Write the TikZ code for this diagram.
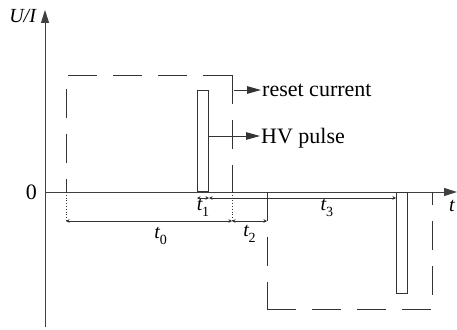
\documentclass[tikz,border=0pt]{standalone}
\usepackage{fontspec}
\setmainfont{Liberation Serif}
\usetikzlibrary{arrows.meta, positioning}

\newcommand{\tsub}[1]{\textit{t}\kern-0.5pt\raisebox{-0.3em}{\fontsize{14}{14}\selectfont #1}}

\begin{document}
\begin{tikzpicture}[
    x=1pt, y=-1pt,
    font=\fontsize{22}{26}\selectfont,
    inner sep=1pt,
    axisline/.style={draw=black!75, line width=1pt, -{Triangle[length=13pt, width=8pt]}},
    thinline/.style={draw=black!80, line width=1pt},
    boxedge/.style={thinline, dash pattern=on 29pt off 16pt},
    pulse/.style={rectangle, draw=black!80, line width=1pt, minimum width=11pt, minimum height=101pt, inner sep=0pt},
    guide/.style={draw=black!80, line width=0.8pt, dotted},
    dimline/.style={draw=black!80, line width=0.7pt, {Stealth[length=3.5pt, width=3.5pt]}-{Stealth[length=3.5pt, width=3.5pt]}},
    callout/.style={thinline, -{Triangle[length=14pt, width=7.5pt]}},
    tlabel/.style={font=\fontsize{20}{22}\selectfont}
]
    \useasboundingbox (0,0) rectangle (457,329);

    % Axes
    \coordinate (O) at (45,192);
    \coordinate (ytop) at (45,10);
    \coordinate (ybot) at (45,327);
    \coordinate (xend) at (457,192);
    \draw[axisline] (ybot) -- (ytop);
    \draw[axisline] (O) -- (xend);
    \node[left=7pt of O] (zero) {0};
    \node[tlabel] (ylab) at (23,16) {\textit{U/I}};
    \node[tlabel] (xlab) at (452,206) {\textit{t}};

    % Dashed boxes
    \coordinate (pa) at (66,192);
    \coordinate (pb) at (66,75);
    \coordinate (pc) at (232,75);
    \coordinate (pd) at (232,192);
    \coordinate (na) at (267,192);
    \coordinate (nb) at (267,309);
    \coordinate (nc) at (432,309);
    \coordinate (nd) at (432,192);
    \draw[boxedge, dash phase=16pt] (pa) -- (pb);
    \draw[boxedge, dash phase=43pt] (pb) -- (pc);
    \draw[boxedge] (pc) -- (pd);
    \draw[boxedge, dash phase=2pt] (nb) -- (na);
    \draw[boxedge] (nb) -- (nc);
    \draw[boxedge, dash phase=16pt] (nd) -- (nc);

    % Pulses
    \node[pulse, anchor=south west] (hvpos) at (197,192) {};
    \node[pulse, anchor=north west] (hvneg) at (396,192) {};

    % Labels
    \node[anchor=west, text depth=0pt] (resetlab) at (261,90) {reset current};
    \node[anchor=west, text depth=0pt] (hvlab) at (260,136) {HV pulse};
    \draw[callout] ([xshift=2pt]pc |- resetlab.west) -- (resetlab.west);
    \draw[callout] (hvpos.east |- hvlab.west) -- (hvlab.west);

    % Timing
    \draw[guide] (pa) -- ++(0,29) coordinate (ga);
    \draw[guide] (pd) -- ++(0,29) coordinate (gd);
    \coordinate (gn) at (na |- ga);
    \coordinate (ua) at ([yshift=-6pt]hvpos.south west);
    \coordinate (ub) at ([yshift=-6pt]hvpos.south east);
    \coordinate (uc) at (hvneg.west |- ua);
    \draw[dimline] (ga) -- node[tlabel, pos=0.57, below=5pt] {\tsub{0}} (gd);
    \draw[dimline] (gd) -- node[tlabel, below=3pt] {\tsub{2}} (gn);
    \draw[dimline] (ua) -- node[tlabel, below=0pt] {\tsub{1}} (ub);
    \draw[dimline] (ub) -- node[tlabel, pos=0.63, below=0pt] {\tsub{3}} (uc);
\end{tikzpicture}
\end{document}
